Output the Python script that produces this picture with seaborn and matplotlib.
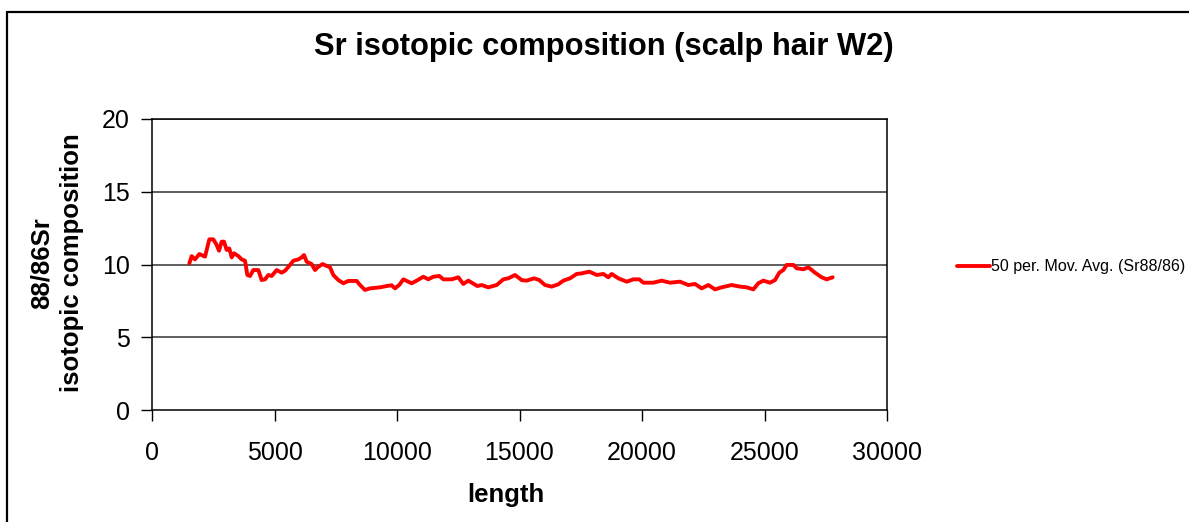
import numpy as np
import pandas as pd
import matplotlib
matplotlib.use("Agg")
import matplotlib.pyplot as plt
import seaborn as sns
from matplotlib.lines import Line2D

# Data
length = [1524, 1620, 1755, 1933, 2163, 2340, 2503, 2640, 2735, 2844, 2939, 3048, 3156, 3252,
          3347, 3524, 3660, 3796, 3891, 4000, 4136, 4340, 4476, 4612, 4748, 4884, 5088, 5292,
          5429, 5633, 5769, 5973, 6109, 6204, 6313, 6517, 6653, 6789, 6966, 7129, 7265, 7401,
          7605, 7810, 8014, 8354, 8490, 8694, 8898, 9306, 9578, 9782, 9918, 10095, 10258, 10599,
          10803, 11075, 11278, 11482, 11727, 11891, 12231, 12503, 12707, 12911, 13279, 13456,
          13728, 14068, 14340, 14544, 14816, 15088, 15292, 15592, 15809, 16041, 16313, 16585,
          16789, 17061, 17333, 17537, 17850, 18150, 18422, 18626, 18762, 19034, 19375, 19647,
          19891, 20054, 20462, 20803, 21143, 21551, 21891, 22163, 22436, 22707, 22980, 23252,
          23660, 24000, 24272, 24544, 24748, 24952, 25224, 25429, 25605, 25769, 25905, 26177,
          26313, 26585, 26789, 27061, 27333, 27537, 27782]
sr_ratio = [10.08, 10.58, 10.35, 10.72, 10.54, 11.73, 11.73, 11.34, 10.95, 11.57, 11.57, 11.0,
            11.1, 10.49, 10.77, 10.58, 10.35, 10.26, 9.28, 9.21, 9.62, 9.62, 8.93, 8.98, 9.28,
            9.21, 9.62, 9.44, 9.57, 9.97, 10.26, 10.35, 10.49, 10.65, 10.19, 10.03, 9.62, 9.85,
            10.03, 9.90, 9.81, 9.28, 8.93, 8.71, 8.87, 8.87, 8.59, 8.25, 8.36, 8.43, 8.52, 8.57,
            8.36, 8.6, 8.98, 8.71, 8.89, 9.16, 8.98, 9.16, 9.21, 8.98, 8.98, 9.12, 8.66, 8.89,
            8.52, 8.59, 8.43, 8.59, 8.98, 9.05, 9.28, 8.93, 8.89, 9.05, 8.93, 8.59, 8.48, 8.64,
            8.89, 9.05, 9.35, 9.39, 9.51, 9.28, 9.35, 9.12, 9.35, 9.05, 8.82, 8.98, 8.98, 8.75,
            8.75, 8.89, 8.75, 8.82, 8.59, 8.66, 8.36, 8.59, 8.29, 8.43, 8.59, 8.48, 8.43, 8.29,
            8.71, 8.89, 8.75, 8.93, 9.44, 9.62, 9.97, 9.97, 9.74, 9.67, 9.81, 9.44, 9.12, 8.98,
            9.12]
series_label = "50 per. Mov. Avg. (Sr88/86)"
title = "Sr isotopic composition (scalp hair W2)"
x_label = "length"
y_label = "88/86Sr\nisotopic composition"
x_ticks = [0, 5000, 10000, 15000, 20000, 25000, 30000]
y_ticks = [0, 5, 10, 15, 20]

df = pd.DataFrame({"length": length, "ratio": sr_ratio})

sns.set_style("white")
plt.rcParams["font.family"] = ["Liberation Sans", "DejaVu Sans"]
plt.rcParams["text.color"] = "black"
plt.rcParams["xtick.color"] = "black"
plt.rcParams["ytick.color"] = "black"

W, H = 1189, 522
fig = plt.figure(figsize=(W / 100, H / 100), dpi=100)
fig.patch.set_facecolor("white")

def fx(px):
    return px / W

def fy(py):
    return 1 - py / H

ax = fig.add_axes([fx(152), fy(410), fx(887) - fx(152), fy(119) - fy(410)])
sns.lineplot(data=df, x="length", y="ratio", ax=ax, color="#ff0000", linewidth=2.8,
             label=series_label, legend=False)

ax.set_xlim(0, 30000)
ax.set_ylim(0, 20)
ax.set_xticks(x_ticks)
ax.set_yticks(y_ticks)
ax.set_xticklabels([str(t) for t in x_ticks], fontsize=18, color="black")
ax.set_yticklabels([str(t) for t in y_ticks], fontsize=18, color="black")
ax.tick_params(axis="both", direction="out", length=8, width=1, color="black",
               bottom=True, left=True)
ax.tick_params(axis="x", pad=14)
ax.tick_params(axis="y", pad=8)
ax.set_xlabel("")
ax.set_ylabel("")
for y in [5, 10, 15, 20]:
    ax.axhline(y, color="#333333", linewidth=1.1, zorder=0)
for s in ax.spines.values():
    s.set_visible(True)
    s.set_color("black")
    s.set_linewidth(1.1)

fig.text(fx(604), fy(47), title, ha="center", va="center", fontsize=22.2,
         fontweight="bold", color="black")
fig.text(fx(506), fy(495), x_label, ha="center", va="center", fontsize=18.5,
         fontweight="bold", color="black")
fig.text(fx(57), fy(263), y_label, ha="center", va="center", rotation=90,
         fontsize=18.5, fontweight="bold", linespacing=1.35, color="black")

# legend
leg_handle = Line2D([0], [0], color="#ff0000", linewidth=2.8)
fig.legend([leg_handle], [series_label], loc="center left",
           bbox_to_anchor=(fx(957), fy(267)), frameon=False, fontsize=11.5,
           handlelength=2.05, handletextpad=0.05, borderpad=0, borderaxespad=0,
           labelcolor="black")

# outer chart border (top and left visible)
fig.add_artist(Line2D([fx(7), 1.0], [fy(12), fy(12)], transform=fig.transFigure,
                      color="black", linewidth=1.6))
fig.add_artist(Line2D([fx(7), fx(7)], [0.0, fy(12)], transform=fig.transFigure,
                      color="black", linewidth=1.6))

fig.savefig("out.png", dpi=100, facecolor="white")
